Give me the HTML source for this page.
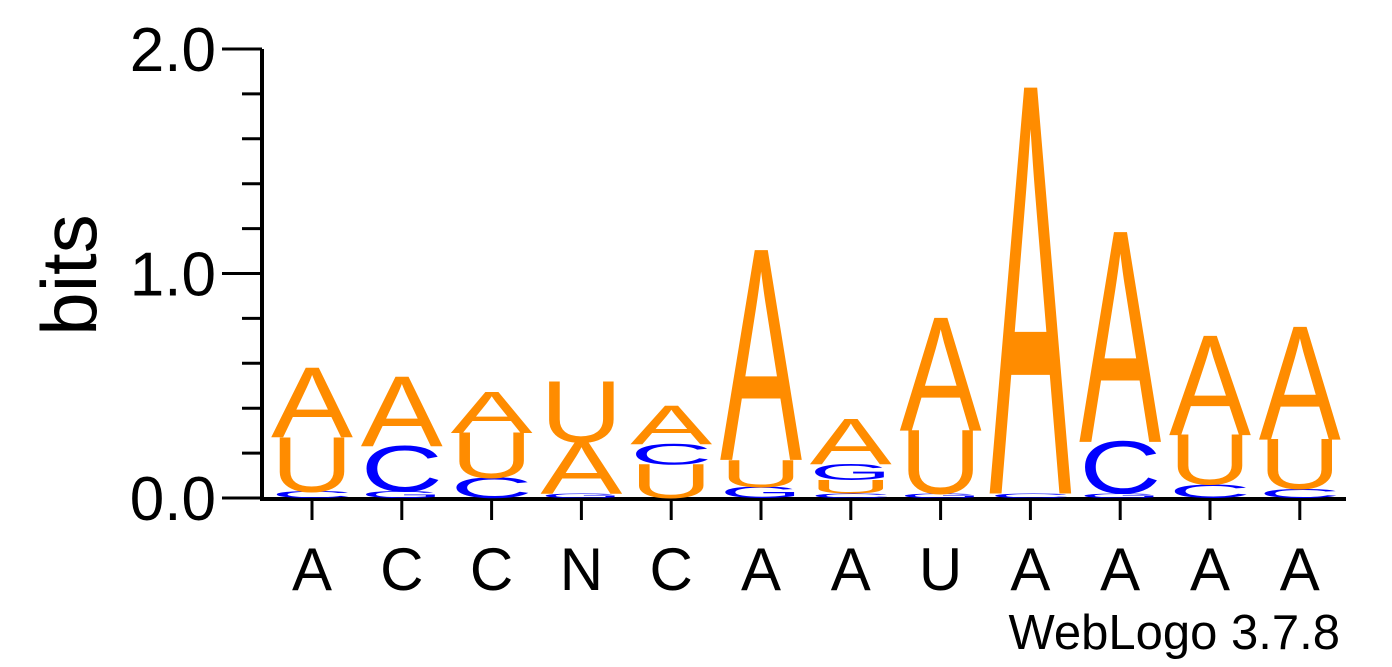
<!DOCTYPE html>
<html><head><meta charset="utf-8"><style>
html,body{margin:0;padding:0;background:#fff;}
svg{display:block;font-family:"Liberation Sans",Arial,sans-serif;}
</style></head><body>
<svg id="logo" width="1392" height="667" viewBox="0 0 1392 667" xmlns="http://www.w3.org/2000/svg">
<g id="axes"></g>
<g id="stacks"></g>
<text x="1340" y="649" font-size="49" text-anchor="end">WebLogo 3.7.8</text>
<text transform="translate(96,275) rotate(-90)" font-size="78" text-anchor="middle">bits</text>
</svg>
<script>
const positions = ['A','C','C','N','C','A','A','U','A','A','A','A'];
const stackLetters = [
 ['C','U','A'],['G','C','A'],['C','U','A'],['G','A','U'],['U','C','A'],['G','U','A'],
 ['C','U','G','A'],['G','U','A'],['C','A'],['G','C','A'],['C','U','A'],['C','U','A']
];
const stackBits = [
 [0.03,0.24,0.31],[0.03,0.2,0.31],[0.09,0.2,0.18],[0.02,0.23,0.27],[0.15,0.09,0.17],[0.05,0.12,0.93],
 [0.02,0.06,0.07,0.2],[0.02,0.28,0.5],[0.02,1.8],[0.02,0.23,0.93],[0.06,0.22,0.44],[0.04,0.22,0.5]
];
const yTicks = [0,1,2];
const yTickLabels = ['0.0','1.0','2.0'];
const NS='http://www.w3.org/2000/svg';
const y0=498, pxPerBit=224.5, x0=312, colStep=89.8, colW=82;
const yScale=b=>y0-b*pxPerBit;
const xScale=i=>x0+i*colStep;
const colors={A:'#ff8c00',U:'#ff8c00',T:'#ff8c00',C:'#0000ff',G:'#0000ff'};
function mk(tag,attrs,parent){const e=document.createElementNS(NS,tag);for(const k in attrs)e.setAttribute(k,attrs[k]);parent.appendChild(e);return e;}
const axes=document.getElementById('axes');
let l=mk('line',{x1:262,y1:yScale(0)+1,x2:262,y2:yScale(2),stroke:'#000','stroke-width':4},axes);


l=mk('line',{x1:260,y1:yScale(0)+1,x2:1346,y2:yScale(0)+1,stroke:'#000','stroke-width':4},axes);


for(let k=0;k<=10;k++){
  const v=k*0.2;const major=(k%5===0);
  const t=mk('line',{x1:major?222:242,y1:yScale(v),x2:262,y2:yScale(v),stroke:'#000','stroke-width':3},axes);
  
  
}
yTicks.forEach((v,i)=>{
  const t=mk('text',{x:216,y:yScale(v)+22,'font-size':62,'text-anchor':'end'},axes);
  t.textContent=yTickLabels[i];
  
  
});
positions.forEach((p,i)=>{
  const t=mk('line',{x1:xScale(i),y1:yScale(0),x2:xScale(i),y2:yScale(0)+22,stroke:'#000','stroke-width':3},axes);
  
  
  const tx=mk('text',{x:xScale(i),y:590,'font-size':60,'text-anchor':'middle'},axes);
  tx.textContent=p;
  
  
});
const stacks=document.getElementById('stacks');
stackLetters.forEach((letters,i)=>{
  let base=0;
  const g=mk('g',{},stacks);
  
  
  letters.forEach((L,j)=>{
    const b=stackBits[i][j];
    const yb=yScale(base), h=b*pxPerBit;
    base+=b;
    if(h<0.5)return;
    const sy=h/68.5;
    const t=mk('text',{x:0,y:0,'font-size':100,textLength:colW,lengthAdjust:'spacingAndGlyphs',fill:colors[L]||'#000',
      transform:`translate(${xScale(i)-colW/2},${yb}) scale(1,${sy})`},g);
    t.textContent=L;
    
    
  });
});
</script>
</body></html>
